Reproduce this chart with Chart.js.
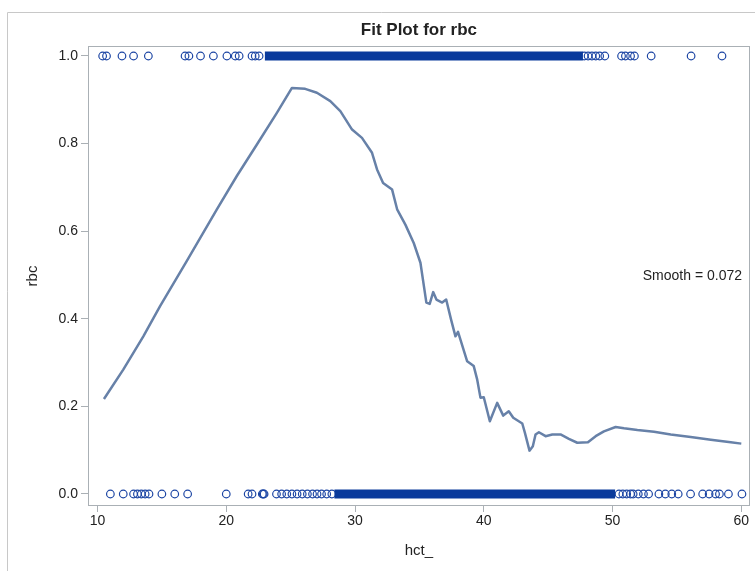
<!DOCTYPE html>
<html><head><meta charset="utf-8">
<script src="https://cdn.jsdelivr.net/npm/chart.js@4/dist/chart.umd.min.js"></script>
<style>html,body{margin:0;padding:0;background:#fff}#wrap{width:755px;height:571px;position:relative}</style>
</head><body><div id="wrap"><canvas id="c" width="755" height="571"></canvas></div>
<script>
// ---- data ----
const curveX=[10.5,12.0,13.56,14.86,16.94,19.27,20.82,22.38,23.93,25.1,26.13,27.04,28.08,28.86,29.77,30.54,31.32,31.71,32.18,32.88,33.27,33.91,34.56,35.08,35.54,35.8,36.07,36.32,36.77,37.08,37.46,37.8,38.0,38.71,39.22,39.49,39.74,40.0,40.47,41.04,41.51,41.94,42.29,42.99,43.19,43.55,43.81,44.02,44.28,44.8,45.32,45.96,46.61,47.26,48.09,48.69,49.33,50.24,50.89,51.93,53.22,54.52,56.07,57.63,59.18,60.0];
const curveY=[0.217,0.284,0.360,0.429,0.532,0.650,0.726,0.798,0.870,0.927,0.925,0.916,0.897,0.874,0.832,0.813,0.779,0.741,0.710,0.695,0.650,0.615,0.573,0.528,0.437,0.434,0.461,0.444,0.437,0.444,0.398,0.360,0.370,0.303,0.292,0.261,0.220,0.221,0.166,0.208,0.179,0.189,0.174,0.161,0.140,0.099,0.109,0.136,0.141,0.132,0.136,0.136,0.126,0.117,0.118,0.132,0.143,0.153,0.150,0.146,0.142,0.136,0.130,0.124,0.118,0.115];
const topX=[10.4,10.7,11.9,12.8,13.95,16.8,17.1,18.0,19.0,20.05,20.7,21.0,22.0,22.25,22.55,47.8,48.1,48.4,48.7,49.0,49.4,50.7,51.0,51.4,51.7,53.0,56.1,58.5];
const bottomX=[11.0,12.0,12.8,13.1,13.4,13.7,14.0,15.0,16.0,17.0,20.0,21.7,22.0,22.8,22.87,22.94,23.9,24.3,24.7,25.1,25.5,25.9,26.3,26.7,27.05,27.4,27.8,28.2,50.5,50.8,51.1,51.4,51.6,52.0,52.4,52.8,53.6,54.1,54.6,55.1,56.06,57.0,57.5,58.0,58.3,59.0,60.05];
const topBand=[23.0,47.7];
const bottomBand=[28.4,50.2];
const xTicks=[10,20,30,40,50,60];
const yTicks=[0,0.2,0.4,0.6,0.8,1.0];
const titleText='Fit Plot for rbc';
const xTitle='hct_';
const yTitle='rbc';
const smoothLabel='Smooth = 0.072';

const markColor='#1d46a4';
const bandColor='#0a3a9c';
const curveColor='#6781a8';
const frameColor='#aab0b5';
const textColor='#222';
const FONT="'Liberation Sans', Arial, sans-serif";

const decor={
  id:'decor',
  beforeDraw(chart){
    const c=chart.ctx,a=chart.chartArea;
    c.save();
    c.strokeStyle='#c8c8c8';c.lineWidth=1;
    c.beginPath();c.moveTo(7.5,571);c.lineTo(7.5,12.5);c.lineTo(755,12.5);c.stroke();
    c.fillStyle=textColor;c.font='bold 17px '+FONT;c.textAlign='center';c.textBaseline='middle';
    c.fillText(titleText,(a.left+a.right)/2,30);
    c.restore();
  },
  beforeDatasetsDraw(chart){
    const a=chart.chartArea,c=chart.ctx;
    c.save();c.strokeStyle=frameColor;c.lineWidth=1;
    c.strokeRect(Math.round(a.left)+0.5,Math.round(a.top)+0.5,Math.round(a.right-a.left)-1,Math.round(a.bottom-a.top)-1);
    c.restore();
  },
  afterDatasetsDraw(chart){
    const c=chart.ctx;
    c.save();c.fillStyle=textColor;c.font='14px '+FONT;c.textAlign='right';c.textBaseline='middle';
    c.fillText(smoothLabel,742,276);
    c.restore();
  }
};

new Chart(document.getElementById('c'),{
  type:'scatter',
  data:{datasets:[
    {data:[{x:topBand[0],y:1},{x:topBand[1],y:1}],showLine:true,borderColor:bandColor,borderWidth:9,borderCapStyle:'butt',pointRadius:0},
    {data:[{x:bottomBand[0],y:0},{x:bottomBand[1],y:0}],showLine:true,borderColor:bandColor,borderWidth:9,borderCapStyle:'butt',pointRadius:0},
    {data:topX.map(x=>({x,y:1})),pointRadius:3.8,pointBorderWidth:1.2,pointBorderColor:markColor,pointBackgroundColor:'rgba(0,0,0,0)'},
    {data:bottomX.map(x=>({x,y:0})),pointRadius:3.8,pointBorderWidth:1.2,pointBorderColor:markColor,pointBackgroundColor:'rgba(0,0,0,0)'},
    {data:curveX.map((x,i)=>({x,y:curveY[i]})),showLine:true,borderColor:curveColor,borderWidth:2.5,pointRadius:0,tension:0,borderJoinStyle:'round'}
  ]},
  options:{
    responsive:false,devicePixelRatio:1,animation:false,
    layout:{padding:{left:0,right:5,top:46,bottom:0}},
    plugins:{legend:{display:false},tooltip:{enabled:false},title:{display:false}},
    scales:{
      x:{type:'linear',min:9.262,max:60.66,
        afterBuildTicks:s=>{s.ticks=xTicks.map(v=>({value:v}));},
        afterFit:s=>{s.height=65;},
        grid:{drawOnChartArea:false,drawTicks:true,tickLength:6,color:frameColor},
        border:{display:false},
        ticks:{color:textColor,font:{family:FONT,size:14},padding:1,maxRotation:0,callback:v=>String(v)},
        title:{display:true,text:xTitle,color:textColor,font:{family:FONT,size:15},padding:{top:0,bottom:11}}
      },
      y:{type:'linear',min:-0.0274,max:1.0228,
        afterBuildTicks:s=>{s.ticks=yTicks.map(v=>({value:v}));},
        afterFit:s=>{s.width=88;},
        grid:{drawOnChartArea:false,drawTicks:true,tickLength:7,color:frameColor},
        border:{display:false},
        ticks:{color:textColor,font:{family:FONT,size:14},padding:3,callback:v=>Number(v).toFixed(1)},
        title:{display:true,text:yTitle,color:textColor,font:{family:FONT,size:15},padding:{top:24,bottom:0}}
      }
    }
  },
  plugins:[decor]
});
</script></body></html>
